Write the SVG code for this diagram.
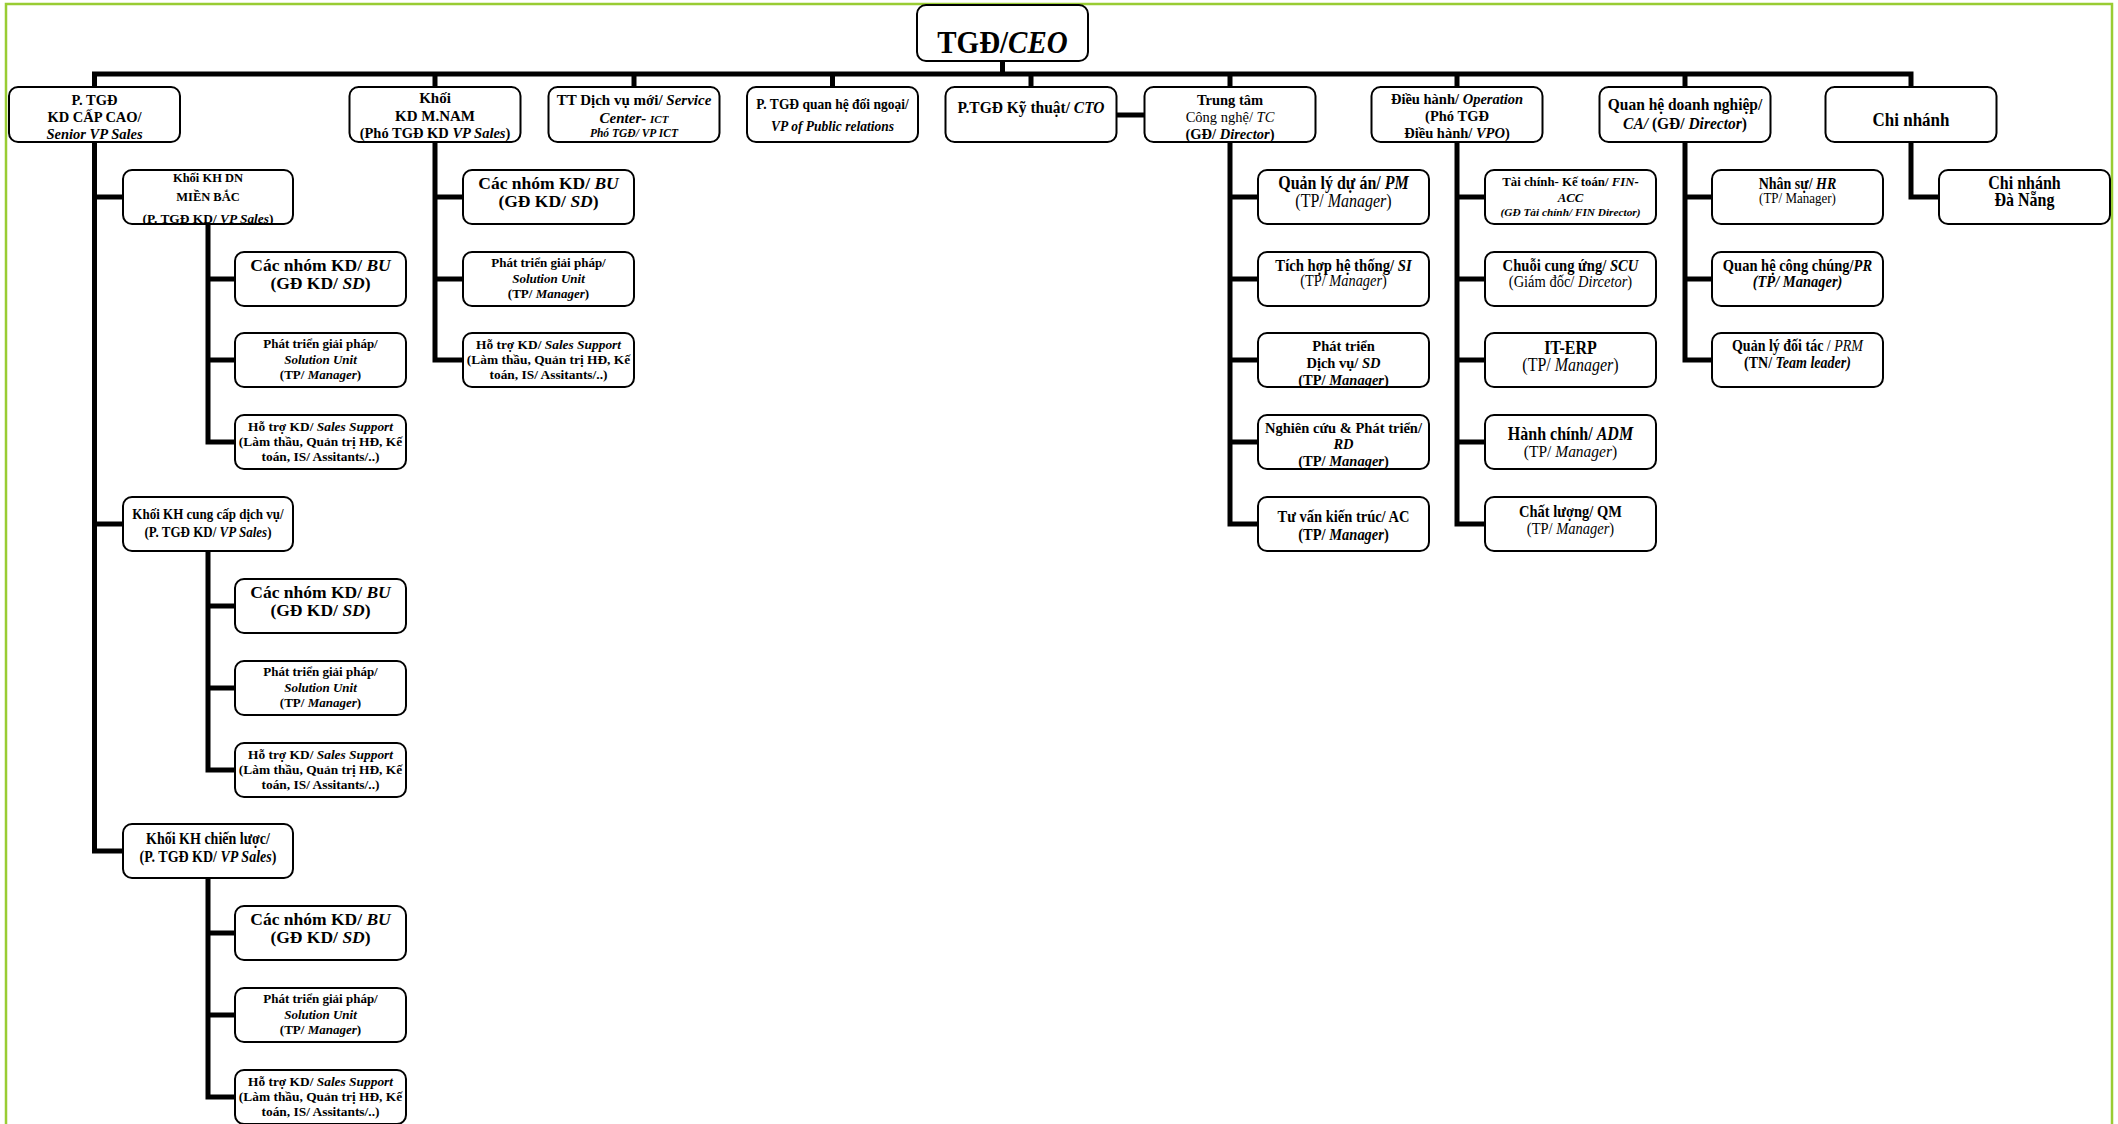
<svg xmlns="http://www.w3.org/2000/svg" width="2118" height="1124" viewBox="0 0 2118 1124">
<style>
text{font-family:"Liberation Serif","Times New Roman",serif;font-weight:bold;text-anchor:middle;fill:#000;transform-box:fill-box;transform-origin:center;transform:scaleY(1.12)}
.tt text{transform:none}
.b{fill:#fff;stroke:#000;stroke-width:2}
.c{fill:none;stroke:#000;stroke-width:5;stroke-linejoin:miter}
.i{font-style:italic}
.n{font-weight:normal}
</style>
<defs>
<clipPath id="k1"><rect x="123" y="170" width="170" height="54" rx="9"/></clipPath>
<clipPath id="ktc"><rect x="1144.5" y="87" width="171" height="55" rx="9"/></clipPath>
<clipPath id="kop"><rect x="1371.5" y="87" width="171" height="55" rx="9"/></clipPath>
<clipPath id="ksd"><rect x="1258" y="333" width="171" height="54" rx="9"/></clipPath>
<clipPath id="krd"><rect x="1258" y="415" width="171" height="54" rx="9"/></clipPath>
</defs>
<rect x="0" y="0" width="2118" height="1124" fill="#fff"/>
<rect x="6" y="4" width="2106" height="1140" fill="none" stroke="#9c3" stroke-width="2.5"/>

<g id="connectors">
<path class="c" d="M1002.5 61V74M94.5 87V74H1911V87M435 74V87M634 74V87M832.5 74V87M1031 74V87M1230 74V87M1457 74V87M1685 74V87"/>
<path class="c" d="M1116 115H1145"/>
<path class="c" d="M94.5 142V851H123M94.5 197H123M94.5 524H123"/>
<path class="c" d="M208 224V442H235M208 279H235M208 360H235"/>
<path class="c" d="M208 551V770H235M208 606H235M208 688H235"/>
<path class="c" d="M208 878V1097H235M208 933H235M208 1015H235"/>
<path class="c" d="M435 142V360H463M435 197H463M435 279H463"/>
<path class="c" d="M1230 142V524H1258M1230 197H1258M1230 279H1258M1230 360H1258M1230 442H1258"/>
<path class="c" d="M1457 142V524H1485M1457 197H1485M1457 279H1485M1457 360H1485M1457 442H1485"/>
<path class="c" d="M1685 142V360H1712M1685 197H1712M1685 279H1712"/>
<path class="c" d="M1911 142V197H1939"/>
</g>

<g id="ceo"><rect class="b" x="917" y="5" width="171" height="56" rx="9"/>
<text x="1002.5" y="52" font-size="29">TGĐ/<tspan class="i">CEO</tspan></text></g>

<g id="ptgd-sales" class="tt" font-size="14.5"><rect class="b" x="9" y="87" width="171" height="55" rx="9"/>
<text x="94.5" y="105">P. TGĐ</text>
<text x="94.5" y="122">KD CẤP CAO/</text>
<text x="94.5" y="139" class="i">Senior VP Sales</text></g>

<g id="mnam" class="tt"><rect class="b" x="349.5" y="87" width="171" height="55" rx="9"/>
<text x="435" y="103" font-size="15">Khối</text>
<text x="435" y="121" font-size="15">KD M.NAM</text>
<text x="435" y="138" font-size="14.5">(Phó TGĐ KD <tspan class="i">VP Sales</tspan>)</text></g>

<g id="ict" class="tt"><rect class="b" x="548.5" y="87" width="171" height="55" rx="9"/>
<text x="634" y="105" font-size="15">TT Dịch vụ mới/ <tspan class="i">Service</tspan></text>
<text x="634" y="123" font-size="15" class="i">Center- <tspan font-size="11">ICT</tspan></text>
<text x="634" y="137" font-size="11.5" class="i">Phó TGĐ/ VP ICT</text></g>

<g id="pr-vp" font-size="13.5"><rect class="b" x="747" y="87" width="171" height="55" rx="9"/>
<text x="832.5" y="108">P. TGĐ quan hệ đối ngoại/</text>
<text x="832.5" y="130" class="i">VP of Public relations</text></g>

<g id="cto"><rect class="b" x="945.5" y="87" width="171" height="55" rx="9"/>
<text x="1031" y="112" font-size="15.5">P.TGĐ Kỹ thuật/ <tspan class="i">CTO</tspan></text></g>

<g id="tc" class="tt" font-size="14.5"><rect class="b" x="1144.5" y="87" width="171" height="55" rx="9"/>
<g clip-path="url(#ktc)">
<text x="1230" y="105">Trung tâm</text>
<text x="1230" y="122" class="n">Công nghệ/ <tspan class="i">TC</tspan></text>
<text x="1230" y="139">(GĐ/ <tspan class="i">Director</tspan>)</text></g></g>

<g id="op" class="tt" font-size="14.5"><rect class="b" x="1371.5" y="87" width="171" height="55" rx="9"/>
<g clip-path="url(#kop)">
<text x="1457" y="104">Điều hành/ <tspan class="i">Operation</tspan></text>
<text x="1457" y="121">(Phó TGĐ</text>
<text x="1457" y="138">Điều hành/ <tspan class="i">VPO</tspan>)</text></g></g>

<g id="ca" font-size="15.5"><rect class="b" x="1599.5" y="87" width="171" height="55" rx="9"/>
<text x="1685" y="109">Quan hệ doanh nghiệp/</text>
<text x="1685" y="128"><tspan class="i">CA/</tspan> (GĐ/ <tspan class="i">Director</tspan>)</text></g>

<g id="branch"><rect class="b" x="1825.5" y="87" width="171" height="55" rx="9"/>
<text x="1911" y="125" font-size="17">Chi nhánh</text></g>

<g id="khdn-mb" class="tt"><rect class="b" x="123" y="170" width="170" height="54" rx="9"/>
<g clip-path="url(#k1)">
<text x="208" y="182" font-size="12.5">Khối KH DN</text>
<text x="208" y="201" font-size="12.5">MIỀN BẮC</text>
<text x="208" y="223" font-size="13.4">(P. TGĐ KD/ <tspan class="i">VP Sales</tspan>)</text></g></g>
<g id="mb-bu" class="tt" font-size="17.5"><rect class="b" x="235" y="252" width="171" height="54" rx="9"/>
<text x="320.5" y="271">Các nhóm KD/ <tspan class="i">BU</tspan></text>
<text x="320.5" y="289">(GĐ KD/ <tspan class="i">SD</tspan>)</text></g>
<g id="mb-su" class="tt" font-size="13"><rect class="b" x="235" y="333" width="171" height="54" rx="9"/>
<text x="320.5" y="348">Phát triển giải pháp/</text>
<text x="320.5" y="363.5" class="i">Solution Unit</text>
<text x="320.5" y="379">(TP/ <tspan class="i">Manager</tspan>)</text></g>
<g id="mb-ss" class="tt" font-size="13.4"><rect class="b" x="235" y="415" width="171" height="54" rx="9"/>
<text x="320.5" y="431">Hỗ trợ KD/ <tspan class="i">Sales Support</tspan></text>
<text x="320.5" y="446">(Làm thầu, Quản trị HĐ, Kế</text>
<text x="320.5" y="461">toán, IS/ Assitants/..)</text></g>

<g id="khdv" font-size="13"><rect class="b" x="123" y="497" width="170" height="54" rx="9"/>
<text x="208" y="518">Khối KH cung cấp dịch vụ/</text>
<text x="208" y="537">(P. TGĐ KD/ <tspan class="i">VP Sales</tspan>)</text></g>
<g id="dv-bu" class="tt" font-size="17.5"><rect class="b" x="235" y="579" width="171" height="54" rx="9"/>
<text x="320.5" y="598">Các nhóm KD/ <tspan class="i">BU</tspan></text>
<text x="320.5" y="616">(GĐ KD/ <tspan class="i">SD</tspan>)</text></g>
<g id="dv-su" class="tt" font-size="13"><rect class="b" x="235" y="661" width="171" height="54" rx="9"/>
<text x="320.5" y="676">Phát triển giải pháp/</text>
<text x="320.5" y="691.5" class="i">Solution Unit</text>
<text x="320.5" y="707">(TP/ <tspan class="i">Manager</tspan>)</text></g>
<g id="dv-ss" class="tt" font-size="13.4"><rect class="b" x="235" y="743" width="171" height="54" rx="9"/>
<text x="320.5" y="759">Hỗ trợ KD/ <tspan class="i">Sales Support</tspan></text>
<text x="320.5" y="774">(Làm thầu, Quản trị HĐ, Kế</text>
<text x="320.5" y="789">toán, IS/ Assitants/..)</text></g>

<g id="khcl" font-size="14"><rect class="b" x="123" y="824" width="170" height="54" rx="9"/>
<text x="208" y="843">Khối KH chiến lược/</text>
<text x="208" y="862">(P. TGĐ KD/ <tspan class="i">VP Sales</tspan>)</text></g>
<g id="cl-bu" class="tt" font-size="17.5"><rect class="b" x="235" y="906" width="171" height="54" rx="9"/>
<text x="320.5" y="925">Các nhóm KD/ <tspan class="i">BU</tspan></text>
<text x="320.5" y="943">(GĐ KD/ <tspan class="i">SD</tspan>)</text></g>
<g id="cl-su" class="tt" font-size="13"><rect class="b" x="235" y="988" width="171" height="54" rx="9"/>
<text x="320.5" y="1003">Phát triển giải pháp/</text>
<text x="320.5" y="1018.5" class="i">Solution Unit</text>
<text x="320.5" y="1034">(TP/ <tspan class="i">Manager</tspan>)</text></g>
<g id="cl-ss" class="tt" font-size="13.4"><rect class="b" x="235" y="1070" width="171" height="54" rx="9"/>
<text x="320.5" y="1086">Hỗ trợ KD/ <tspan class="i">Sales Support</tspan></text>
<text x="320.5" y="1101">(Làm thầu, Quản trị HĐ, Kế</text>
<text x="320.5" y="1116">toán, IS/ Assitants/..)</text></g>

<g id="mn-bu" class="tt" font-size="17.5"><rect class="b" x="463" y="170" width="171" height="54" rx="9"/>
<text x="548.5" y="188.5">Các nhóm KD/ <tspan class="i">BU</tspan></text>
<text x="548.5" y="206.5">(GĐ KD/ <tspan class="i">SD</tspan>)</text></g>
<g id="mn-su" class="tt" font-size="13"><rect class="b" x="463" y="252" width="171" height="54" rx="9"/>
<text x="548.5" y="267">Phát triển giải pháp/</text>
<text x="548.5" y="282.5" class="i">Solution Unit</text>
<text x="548.5" y="298">(TP/ <tspan class="i">Manager</tspan>)</text></g>
<g id="mn-ss" class="tt" font-size="13.4"><rect class="b" x="463" y="333" width="171" height="54" rx="9"/>
<text x="548.5" y="349">Hỗ trợ KD/ <tspan class="i">Sales Support</tspan></text>
<text x="548.5" y="364">(Làm thầu, Quản trị HĐ, Kế</text>
<text x="548.5" y="379">toán, IS/ Assitants/..)</text></g>

<g id="pm" font-size="16"><rect class="b" x="1258" y="170" width="171" height="54" rx="9"/>
<text x="1343.5" y="188">Quản lý dự án/ <tspan class="i">PM</tspan></text>
<text x="1343.5" y="206" class="n">(TP/ <tspan class="i">Manager</tspan>)</text></g>
<g id="si"><rect class="b" x="1258" y="252" width="171" height="54" rx="9"/>
<text x="1343.5" y="270" font-size="14.7">Tích hợp hệ thống/ <tspan class="i">SI</tspan></text>
<text x="1343.5" y="285" font-size="14.4" class="n">(TP/ <tspan class="i">Manager</tspan>)</text></g>
<g id="sd" class="tt" font-size="14.5"><rect class="b" x="1258" y="333" width="171" height="54" rx="9"/>
<g clip-path="url(#ksd)">
<text x="1343.5" y="351">Phát triển</text>
<text x="1343.5" y="368">Dịch vụ/ <tspan class="i">SD</tspan></text>
<text x="1343.5" y="385">(TP/ <tspan class="i">Manager</tspan>)</text></g></g>
<g id="rd" class="tt" font-size="14.5"><rect class="b" x="1258" y="415" width="171" height="54" rx="9"/>
<g clip-path="url(#krd)">
<text x="1343.5" y="433">Nghiên cứu &amp; Phát triển/</text>
<text x="1343.5" y="449" class="i">RD</text>
<text x="1343.5" y="466">(TP/ <tspan class="i">Manager</tspan>)</text></g></g>
<g id="ac" font-size="14.5"><rect class="b" x="1258" y="497" width="171" height="54" rx="9"/>
<text x="1343.5" y="521">Tư vấn kiến trúc/ AC</text>
<text x="1343.5" y="539">(TP/ <tspan class="i">Manager</tspan>)</text></g>

<g id="fin" class="tt"><rect class="b" x="1485" y="170" width="171" height="54" rx="9"/>
<text x="1570.5" y="186" font-size="12.8">Tài chính- Kế toán/ <tspan class="i">FIN-</tspan></text>
<text x="1570.5" y="202" font-size="12.8" class="i">ACC</text>
<text x="1570.5" y="216" font-size="11.3" class="i">(GĐ Tài chính/ FIN Director)</text></g>
<g id="scu"><rect class="b" x="1485" y="252" width="171" height="54" rx="9"/>
<text x="1570.5" y="270" font-size="14.6">Chuỗi cung ứng/ <tspan class="i">SCU</tspan></text>
<text x="1570.5" y="286" font-size="14.5" class="n">(Giám đốc/ <tspan class="i">Dircetor</tspan>)</text></g>
<g id="erp" font-size="16"><rect class="b" x="1485" y="333" width="171" height="54" rx="9"/>
<text x="1570.5" y="353">IT-ERP</text>
<text x="1570.5" y="370" class="n">(TP/ <tspan class="i">Manager</tspan>)</text></g>
<g id="adm"><rect class="b" x="1485" y="415" width="171" height="54" rx="9"/>
<text x="1570.5" y="439" font-size="16">Hành chính/ <tspan class="i">ADM</tspan></text>
<text x="1570.5" y="456" font-size="15.5" class="n">(TP/ <tspan class="i">Manager</tspan>)</text></g>
<g id="qm" font-size="14.5"><rect class="b" x="1485" y="497" width="171" height="54" rx="9"/>
<text x="1570.5" y="516">Chất lượng/ QM</text>
<text x="1570.5" y="533" class="n">(TP/ <tspan class="i">Manager</tspan>)</text></g>

<g id="hr"><rect class="b" x="1712" y="170" width="171" height="54" rx="9"/>
<text x="1797.5" y="188" font-size="14">Nhân sự/ <tspan class="i">HR</tspan></text>
<text x="1797.5" y="202.5" font-size="13" class="n">(TP/ Manager)</text></g>
<g id="pr" font-size="14.5"><rect class="b" x="1712" y="252" width="171" height="54" rx="9"/>
<text x="1797.5" y="270">Quan hệ công chúng/<tspan class="i">PR</tspan></text>
<text x="1797.5" y="286" class="i">(TP/ Manager)</text></g>
<g id="prm" font-size="14"><rect class="b" x="1712" y="333" width="171" height="54" rx="9"/>
<text x="1797.5" y="350">Quản lý đối tác <tspan class="n">/ <tspan class="i">PRM</tspan></tspan></text>
<text x="1797.5" y="367">(TN/ <tspan class="i">Team leader)</tspan></text></g>

<g id="danang" font-size="16"><rect class="b" x="1939" y="170" width="171" height="54" rx="9"/>
<text x="2024.5" y="188.5">Chi nhánh</text>
<text x="2024.5" y="205.5">Đà Nẵng</text></g>
</svg>
